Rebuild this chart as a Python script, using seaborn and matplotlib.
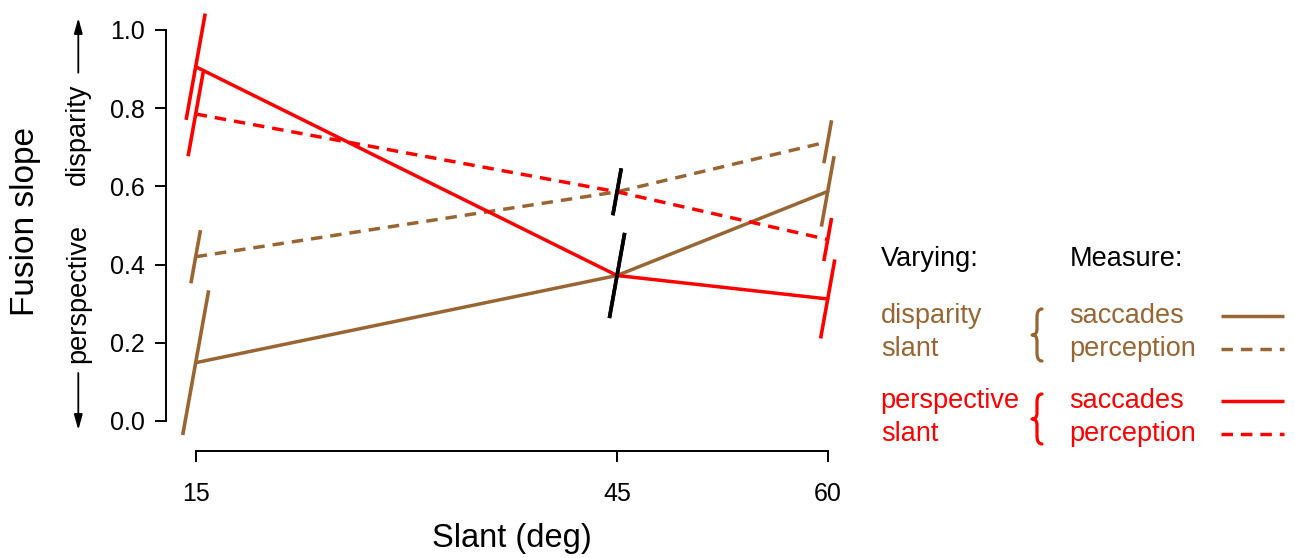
import matplotlib
matplotlib.use("Agg")
import matplotlib.pyplot as plt
from matplotlib.path import Path
from matplotlib.patches import PathPatch
import seaborn as sns

# ---------------- data ----------------
slant = [15, 45, 60]
disparity_saccades = [0.149, 0.372, 0.587]
disparity_perception = [0.420, 0.586, 0.714]
perspective_saccades = [0.906, 0.372, 0.312]
perspective_perception = [0.785, 0.586, 0.464]

disparity_saccades_err = [0.185, 0.109, 0.090]
disparity_perception_err = [0.068, 0.060, 0.055]
perspective_saccades_err = [0.136, 0.109, 0.101]
perspective_perception_err = [0.108, 0.060, 0.055]

x_ticks = [15, 45, 60]
y_ticks = [0.0, 0.2, 0.4, 0.6, 0.8, 1.0]
y_tick_labels = ["0.0", "0.2", "0.4", "0.6", "0.8", "1.0"]
shared_slant = 45  # point where both conditions coincide (black error bars)

# ---------------- style ----------------
BROWN = "#996633"
RED = "#FF0000"
W, H = 1294, 558
LW = 2.5
DASH = (0, (3.3, 2.3))
BAR_SLANT = 5.0  # x-offset (deg) per unit of y for the tilted error bars

sns.set_theme(style="ticks")
plt.rcParams["font.family"] = ["Liberation Sans", "DejaVu Sans"]

fig = plt.figure(figsize=(W / 100, H / 100), dpi=100)
fig.patch.set_facecolor("white")
ax = fig.add_axes([170.4 / W, (H - 436.6) / H, 682.6 / W, 422.3 / H])
ax.patch.set_visible(False)


def fpx(x, y):
    return (x / W, 1 - y / H)


series = [
    (disparity_saccades, disparity_saccades_err, BROWN, "-"),
    (disparity_perception, disparity_perception_err, BROWN, DASH),
    (perspective_saccades, perspective_saccades_err, RED, "-"),
    (perspective_perception, perspective_perception_err, RED, DASH),
]

for vals, errs, col, ls in series:
    sns.lineplot(x=slant, y=vals, color=col, linewidth=LW, linestyle=ls,
                 ax=ax, zorder=2)

for vals, errs, col, ls in series:
    for xv, yv, e in zip(slant, vals, errs):
        c = "black" if xv == shared_slant else col
        ax.plot([xv - BAR_SLANT * e, xv + BAR_SLANT * e], [yv - e, yv + e],
                color=c, lw=2.6, clip_on=False, solid_capstyle="butt", zorder=3)

# ---------------- axes ----------------
ax.set_xlim(13.2, 61.8)
ax.set_ylim(-0.04, 1.04)
ax.set_xticks(x_ticks)
ax.set_xticklabels([str(v) for v in x_ticks])
ax.set_yticks(y_ticks)
ax.set_yticklabels(y_tick_labels)
ax.grid(False)
for s in ["top", "right"]:
    ax.spines[s].set_visible(False)
ax.spines["left"].set_position(("outward", 3.4))
ax.spines["bottom"].set_position(("outward", 10.7))
ax.spines["left"].set_bounds(0, 1)
ax.spines["bottom"].set_bounds(15, 60)
for s in ["left", "bottom"]:
    ax.spines[s].set_linewidth(1.4)
    ax.spines[s].set_color("black")
ax.tick_params(axis="both", direction="out", length=8.2, width=1.4,
               color="black", labelcolor="black")
ax.tick_params(axis="y", labelsize=18, pad=6.7)
ax.tick_params(axis="x", labelsize=18, pad=13.5)

ax.set_xlabel("Slant (deg)", fontsize=23.5, color="black")
ax.xaxis.set_label_coords(0.5, (436.6 - 523) / 422.3)
ax.set_ylabel("Fusion slope", fontsize=24, color="black")
ax.yaxis.set_label_coords((41 - 170.4) / 682.6, (436.6 - 221.5) / 422.3)

# direction annotations next to the y axis
fig.text(*fpx(78.3, 134), "disparity", rotation=90, ha="center", va="center",
         fontsize=19.5, color="black")
fig.text(*fpx(78.3, 293.3), "perspective", rotation=90, ha="center", va="center",
         fontsize=19.5, color="black")
arrow_kw = dict(arrowstyle="-|>,head_length=0.65,head_width=0.18", color="black",
                lw=1.3, shrinkA=0, shrinkB=0, mutation_scale=14)
ax.annotate("", xy=fpx(78.3, 18), xytext=fpx(78.3, 72.7),
            xycoords="figure fraction", textcoords="figure fraction",
            arrowprops=arrow_kw, annotation_clip=False)
ax.annotate("", xy=fpx(78.3, 430), xytext=fpx(78.3, 373),
            xycoords="figure fraction", textcoords="figure fraction",
            arrowprops=arrow_kw, annotation_clip=False)


def brace(cx, top, bottom, color):
    """thin curly brace drawn in figure pixel space"""
    cy = (top + bottom) / 2.0
    h = (bottom - top) / 2.0
    a = 5.0   # horizontal reach of the tips / middle point
    b = 8.0
    c = 6.0
    pts = [
        (cx + a, cy - h),
        (cx, cy - h), (cx, cy - h + b),
        (cx, cy - c),
        (cx, cy), (cx - a, cy),
        (cx, cy), (cx, cy + c),
        (cx, cy + h - b),
        (cx, cy + h), (cx + a, cy + h),
    ]
    codes = [Path.MOVETO, Path.CURVE3, Path.CURVE3, Path.LINETO,
             Path.CURVE3, Path.CURVE3, Path.CURVE3, Path.CURVE3,
             Path.LINETO, Path.CURVE3, Path.CURVE3]
    verts = [fpx(x, y) for x, y in pts]
    patch = PathPatch(Path(verts, codes), transform=fig.transFigure,
                      facecolor="none", edgecolor=color, lw=2.3,
                      capstyle="round", joinstyle="round")
    fig.add_artist(patch)


# ---------------- custom legend ----------------
LFS = 19.5
fig.text(*fpx(880.7, 266), "Varying:", fontsize=LFS, color="black", va="baseline")
fig.text(*fpx(1069.3, 266), "Measure:", fontsize=LFS, color="black", va="baseline")

groups = [
    (["disparity", "slant"], BROWN, 323.3, 356.0, (309, 361)),
    (["perspective", "slant"], RED, 408.3, 441.0, (394, 444)),
]
for (w1, w2), col, b1, b2, (btop, bbot) in groups:
    fig.text(*fpx(880.7, b1), w1, fontsize=LFS, color=col, va="baseline")
    fig.text(*fpx(880.7, b2), w2, fontsize=LFS, color=col, va="baseline")
    brace(1037, btop, bbot, col)
    fig.text(*fpx(1069.3, b1), "saccades", fontsize=LFS, color=col, va="baseline")
    fig.text(*fpx(1069.3, b2), "perception", fontsize=LFS, color=col, va="baseline")
    for ly, ls in [(b1 - 7.5, "-"), (b2 - 7.5, DASH)]:
        x0, y0 = fpx(1220.7, ly)
        x1, _ = fpx(1284, ly)
        ax.plot([x0, x1], [y0, y0], transform=fig.transFigure, clip_on=False,
                color=col, lw=LW, linestyle=ls, solid_capstyle="butt")

fig.savefig("out.png", dpi=100, facecolor="white")
